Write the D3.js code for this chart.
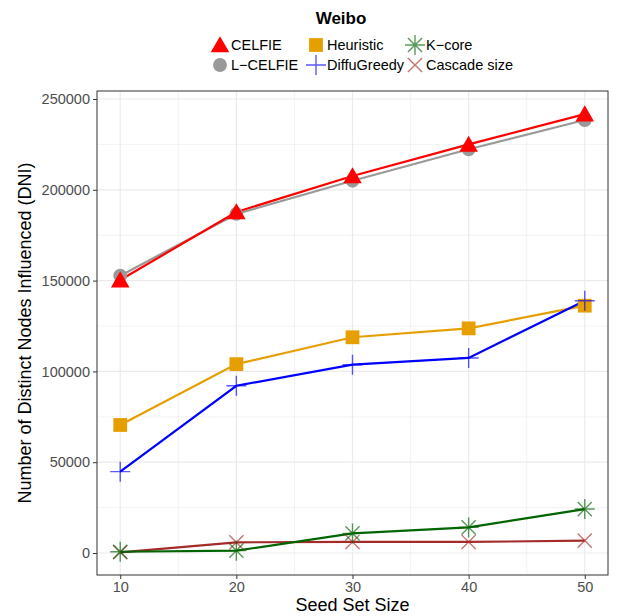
<!DOCTYPE html>
<html>
<head>
<meta charset="utf-8">
<script src="https://cdn.jsdelivr.net/npm/d3@7"></script>
<style>
  body { margin: 0; background: #fff; font-family: "Liberation Sans", Arial, sans-serif; }
</style>
</head>
<body>
<div id="chart"></div>
<script>
// data
const seedSizes = [10, 20, 30, 40, 50];
const celfie = [150300, 187800, 207600, 225000, 241700];
const lCelfie = [152700, 186700, 205000, 222300, 238400];
const heuristic = [70500, 104000, 118800, 123700, 136200];
const diffuGreedy = [44800, 92100, 103700, 107400, 138900];
const kCore = [700, 1300, 10800, 14100, 24200];
const cascadeSize = [400, 5900, 6100, 6100, 6800];
const yTicks = [0, 50000, 100000, 150000, 200000, 250000];
const xTicks = [10, 20, 30, 40, 50];

const series = [
  { name: "CELFIE", values: celfie, color: "#FF0000", shape: "triangle" },
  { name: "L\u2212CELFIE", values: lCelfie, color: "#999999", shape: "circle" },
  { name: "Heuristic", values: heuristic, color: "#E69F00", shape: "square" },
  { name: "DiffuGreedy", values: diffuGreedy, color: "#0000FF", shape: "plus" },
  { name: "K\u2212core", values: kCore, color: "#006400", shape: "asterisk" },
  { name: "Cascade size", values: cascadeSize, color: "#A52A2A", shape: "cross" },
];

const width = 634;
const height = 616;
const panel = { left: 97, right: 608, top: 91, bottom: 575 };

const svg = d3.select("#chart").append("svg")
  .attr("width", width)
  .attr("height", height);

const x = d3.scaleLinear().domain([8, 52]).range([panel.left, panel.right]);
const y = d3.scaleLinear().domain([-12100, 254400]).range([panel.bottom, panel.top]);

// grid
const grid = svg.append("g");
[15, 25, 35, 45].forEach(v => {
  grid.append("line").attr("x1", x(v)).attr("x2", x(v))
    .attr("y1", panel.top).attr("y2", panel.bottom)
    .attr("stroke", "#EBEBEB").attr("stroke-width", 0.6);
});
[25000, 75000, 125000, 175000, 225000].forEach(v => {
  grid.append("line").attr("x1", panel.left).attr("x2", panel.right)
    .attr("y1", y(v)).attr("y2", y(v))
    .attr("stroke", "#EBEBEB").attr("stroke-width", 0.6);
});
xTicks.forEach(v => {
  grid.append("line").attr("x1", x(v)).attr("x2", x(v))
    .attr("y1", panel.top).attr("y2", panel.bottom)
    .attr("stroke", "#EBEBEB").attr("stroke-width", 1.2);
});
yTicks.forEach(v => {
  grid.append("line").attr("x1", panel.left).attr("x2", panel.right)
    .attr("y1", y(v)).attr("y2", y(v))
    .attr("stroke", "#EBEBEB").attr("stroke-width", 1.2);
});

// axes
const xAxis = svg.append("g")
  .attr("transform", `translate(0,${panel.bottom})`)
  .call(d3.axisBottom(x).tickValues(xTicks).tickSize(4).tickPadding(3));
const yAxis = svg.append("g")
  .attr("transform", `translate(${panel.left},0)`)
  .call(d3.axisLeft(y).tickValues(yTicks).tickSize(4).tickPadding(3).tickFormat(d3.format("d")));
[xAxis, yAxis].forEach(a => {
  a.select(".domain").remove();
  a.selectAll(".tick line").attr("stroke", "#333333");
  a.selectAll(".tick text").attr("fill", "#4D4D4D")
    .style("font-size", "14.5px")
    .style("font-family", "Liberation Sans, Arial, sans-serif");
});

// border
svg.append("rect")
  .attr("x", panel.left).attr("y", panel.top)
  .attr("width", panel.right - panel.left).attr("height", panel.bottom - panel.top)
  .attr("fill", "none").attr("stroke", "#333333").attr("stroke-width", 1);

// shapes
function shapePath(shape, s) {
  if (shape === "triangle") return d3.symbol(d3.symbolTriangle, 150 * s)();
  if (shape === "circle") return d3.symbol(d3.symbolCircle, 150 * s)();
  if (shape === "square") return d3.symbol(d3.symbolSquare, 190 * s)();
  const r = 10 * Math.sqrt(s);
  const d = r * 0.7071;
  if (shape === "plus") return `M${-r},0L${r},0M0,${-r}L0,${r}`;
  if (shape === "cross") return `M${-d},${-d}L${d},${d}M${-d},${d}L${d},${-d}`;
  return `M${-r},0L${r},0M0,${-r}L0,${r}M${-d},${-d}L${d},${d}M${-d},${d}L${d},${-d}`;
}
const filled = s => ["triangle", "circle", "square"].includes(s);

function drawPoint(g, sr, cx, cy, s) {
  const p = g.append("path")
    .attr("d", shapePath(sr.shape, s))
    .attr("transform", `translate(${cx},${cy})` + (sr.shape === "triangle" ? " translate(0,2)" : ""));
  if (filled(sr.shape)) p.attr("fill", sr.color);
  else p.attr("fill", "none").attr("stroke", sr.color).attr("stroke-width", 1.4).attr("opacity", 0.65);
}

// lines
const line = d3.line().x((d, i) => x(seedSizes[i])).y(d => y(d));
const drawOrder = [1, 0, 2, 3, 5, 4];
drawOrder.forEach(k => {
  svg.append("path").datum(series[k].values)
    .attr("d", line)
    .attr("fill", "none")
    .attr("stroke", series[k].color)
    .attr("stroke-width", 2.2);
});

// points
const pts = svg.append("g");
drawOrder.forEach(k => {
  series[k].values.forEach((v, i) => drawPoint(pts, series[k], x(seedSizes[i]), y(v), 1));
});

// title
svg.append("text")
  .attr("x", 341).attr("y", 24)
  .attr("text-anchor", "middle")
  .style("font-size", "17px").style("font-weight", "bold")
  .text("Weibo");

// legend (shapes only)
const legendCols = [220, 316, 415];
const legendRows = [45, 65];
const legend = svg.append("g");
series.forEach((sr, i) => {
  const col = Math.floor(i / 2), row = i % 2;
  const kx = legendCols[col], ky = legendRows[row];
  drawPoint(legend, sr, kx, ky, 1);
  legend.append("text")
    .attr("x", kx + 11).attr("y", ky + 5)
    .style("font-size", "14.5px")
    .text(sr.name);
});

// axis titles
svg.append("text")
  .attr("x", (panel.left + panel.right) / 2).attr("y", 611)
  .attr("text-anchor", "middle")
  .style("font-size", "18px")
  .text("Seed Set Size");
svg.append("text")
  .attr("transform", `translate(31,${(panel.top + panel.bottom) / 2}) rotate(-90)`)
  .attr("text-anchor", "middle")
  .style("font-size", "18px")
  .text("Number of Distinct Nodes Influenced (DNI)");
</script>
</body>
</html>
